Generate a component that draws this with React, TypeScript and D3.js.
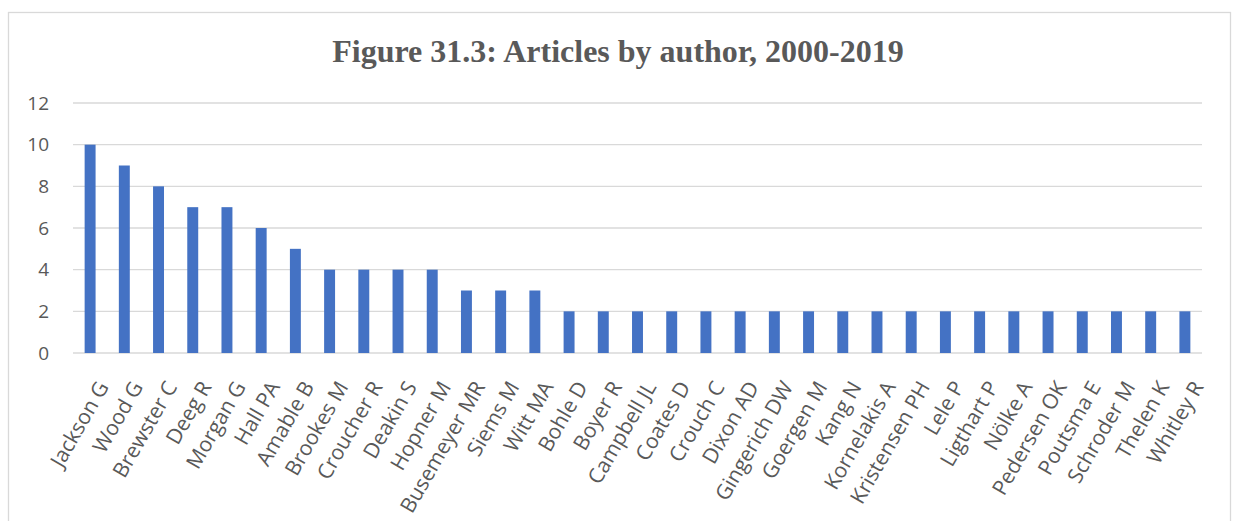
import React from "react";
import * as d3 from "d3";

// Articles per author, 2000-2019
const authors = [
  "Jackson G", "Wood G", "Brewster C", "Deeg R", "Morgan G", "Hall PA", "Amable B",
  "Brookes M", "Croucher R", "Deakin S", "Hopner M", "Busemeyer MR", "Siems M", "Witt MA",
  "Bohle D", "Boyer R", "Campbell JL", "Coates D", "Crouch C", "Dixon AD", "Gingerich DW",
  "Goergen M", "Kang N", "Kornelakis A", "Kristensen PH", "Lele P", "Ligthart P", "Nölke A",
  "Pedersen OK", "Poutsma E", "Schroder M", "Thelen K", "Whitley R",
];
const articles = [
  10, 9, 8, 7, 7, 6, 5,
  4, 4, 4, 4, 3, 3, 3,
  2, 2, 2, 2, 2, 2, 2,
  2, 2, 2, 2, 2, 2, 2,
  2, 2, 2, 2, 2,
];
const yTicks = [0, 2, 4, 6, 8, 10, 12];
const title = "Figure 31.3: Articles by author, 2000-2019";

const W = 1233;
const H = 521;
const plot = { left: 73, right: 1202, top: 103, bottom: 353 };
const textColor = "#595959";
const gridColor = "#D9D9D9";
const barColor = "#4472C4";
const labelFont = "'Open Sans', sans-serif";

export default function App() {
  const x = d3.scaleBand<string>().domain(authors).range([plot.left, plot.right]).padding(0);
  const y = d3.scaleLinear().domain([0, 12]).range([plot.bottom, plot.top]);
  const barW = x.bandwidth() * 0.32;

  return (
    <svg
      width={W}
      height={H}
      style={{ position: "absolute", left: 0, top: 0, background: "#fff" }}
    >
      <rect x={0} y={0} width={W} height={H} fill="#fff" />
      {/* chart frame */}
      <rect x={8.5} y={12.5} width={1222} height={560} fill="none" stroke={gridColor} strokeWidth={1.3} />

      <text
        x={618}
        y={62}
        textAnchor="middle"
        fontFamily="'Liberation Serif', 'Times New Roman', serif"
        fontWeight="bold"
        fontSize={32}
        fill={textColor}
      >
        {title}
      </text>

      {yTicks.map((t) => (
        <g key={t}>
          <line x1={plot.left} x2={plot.right} y1={y(t)} y2={y(t)} stroke={gridColor} strokeWidth={1.3} />
          <text
            x={49}
            y={y(t)}
            dy="0.35em"
            textAnchor="end"
            fontFamily={labelFont}
            fontSize={19}
            fill={textColor}
          >
            {t}
          </text>
        </g>
      ))}

      {authors.map((a, i) => {
        const cx = (x(a) as number) + x.bandwidth() / 2;
        return (
          <rect
            key={a}
            x={cx - barW / 2}
            y={y(articles[i])}
            width={barW}
            height={y(0) - y(articles[i])}
            fill={barColor}
          />
        );
      })}

      {authors.map((a) => {
        const cx = (x(a) as number) + x.bandwidth() / 2 + 13;
        const cy = 383;
        return (
          <text
            key={a}
            transform={`translate(${cx},${cy}) rotate(-60)`}
            dy="0.35em"
            textAnchor="end"
            fontFamily={labelFont}
            fontSize={21}
            fill={textColor}
          >
            {a}
          </text>
        );
      })}
    </svg>
  );
}
